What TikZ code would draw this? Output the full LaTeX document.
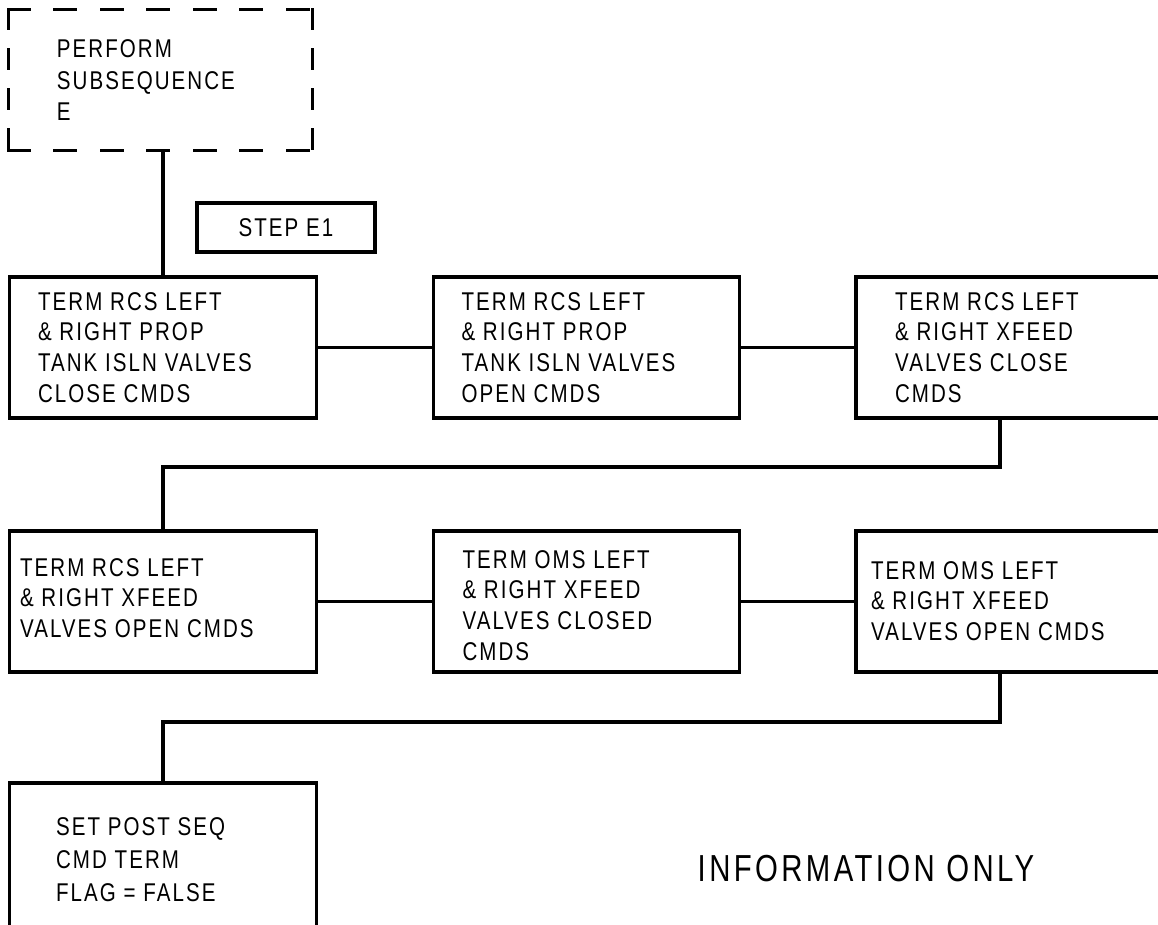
\documentclass[tikz,border=0pt]{standalone}
\usepackage{fontspec}
\setmainfont{Liberation Sans}
\newfontfamily\flowfont{Liberation Sans}[FakeStretch=0.8,LetterSpace=8]
\newfontfamily\infofont{Liberation Sans}[FakeStretch=0.78,LetterSpace=9]
\usetikzlibrary{positioning}

\begin{document}
\begin{tikzpicture}[
    x=0.01cm, y=-0.01cm,
    stage/.style={draw, line width=0.9pt, minimum width=3.06cm,
        minimum height=1.41cm, inner sep=0pt},
    subbox/.style={minimum width=3.03cm, minimum height=1.40cm, inner sep=0pt},
    hdash/.style={line width=0.9pt, line cap=rect,
        dash pattern=on 0.21cm off 0.255cm},
    vdash/.style={line width=0.9pt, line cap=rect,
        dash pattern=on 0.19cm off 0.21cm},
    stepbox/.style={draw, line width=0.9pt, minimum width=1.78cm,
        minimum height=0.49cm, inner sep=0pt,
        font=\flowfont\fontsize{7.3}{8.8}\selectfont},
    boxtext/.style={inner sep=0pt, align=left,
        font=\flowfont\fontsize{7.3}{8.8}\selectfont},
    link/.style={line width=0.9pt}
]
\useasboundingbox (0,0) rectangle (1158,924);

% entry and step tag
\node[subbox] (sub) at (160.5,80) {};
\draw[hdash] (sub.north west) -- (sub.north east);
\draw[hdash] (sub.south west) -- (sub.south east);
\draw[vdash] (sub.north west) -- (sub.south west);
\draw[vdash] (sub.north east) -- (sub.south east);
\node[boxtext, below right=0.30cm and 0.48cm of sub.north west,
    font=\flowfont\fontsize{7.3}{8.95}\selectfont] (subtxt)
    {PERFORM\\SUBSEQUENCE\\E};
\node[stepbox] (step) at (286,227.5) {STEP E1};

% first row
\node[stage] (b1) at (163,347.5) {};
\node[stage] (b2) at (586.5,347.5) {};
\node[stage] (b3) at (1009,347.5) {};
\node[boxtext, below right=0.16cm and 0.29cm of b1.north west] (b1txt)
    {TERM RCS LEFT\\\& RIGHT PROP\\TANK ISLN VALVES\\CLOSE CMDS};
\node[boxtext, below right=0.16cm and 0.29cm of b2.north west] (b2txt)
    {TERM RCS LEFT\\\& RIGHT PROP\\TANK ISLN VALVES\\OPEN CMDS};
\node[boxtext, below right=0.16cm and 0.40cm of b3.north west] (b3txt)
    {TERM RCS LEFT\\\& RIGHT XFEED\\VALVES CLOSE\\CMDS};

% second row
\node[stage] (b4) at (163,601.5) {};
\node[stage] (b5) at (586.5,601.5) {};
\node[stage] (b6) at (1009,601.5) {};
\node[boxtext, below right=0.28cm and 0.11cm of b4.north west] (b4txt)
    {TERM RCS LEFT\\\& RIGHT XFEED\\VALVES OPEN CMDS};
\node[boxtext, below right=0.20cm and 0.30cm of b5.north west] (b5txt)
    {TERM OMS LEFT\\\& RIGHT XFEED\\VALVES CLOSED\\CMDS};
\node[boxtext, below right=0.31cm and 0.16cm of b6.north west] (b6txt)
    {TERM OMS LEFT\\\& RIGHT XFEED\\VALVES OPEN CMDS};

% last row
\node[stage, minimum height=1.50cm] (b7) at (163,858) {};
\node[boxtext, below right=0.35cm and 0.47cm of b7.north west,
    font=\flowfont\fontsize{7.3}{9.4}\selectfont] (b7txt)
    {SET POST SEQ\\CMD TERM\\FLAG = FALSE};
\node[inner sep=0pt, anchor=north west,
    font=\infofont\fontsize{10.7}{12}\selectfont] (info) at (697,855)
    {INFORMATION ONLY};

% connectors
\coordinate (j1) at (1000,467);
\coordinate (j2) at (1000,722);
\draw[link] (sub.south -| b1.north) -- (b1.north);
\draw[link] (b1.east) -- (b2.west);
\draw[link] (b2.east) -- (b3.west);
\draw[link] (b3.south -| j1) -- (j1) -| (b4.north);
\draw[link] (b4.east) -- (b5.west);
\draw[link] (b5.east) -- (b6.west);
\draw[link] (b6.south -| j2) -- (j2) -| (b7.north);
\end{tikzpicture}
\end{document}
